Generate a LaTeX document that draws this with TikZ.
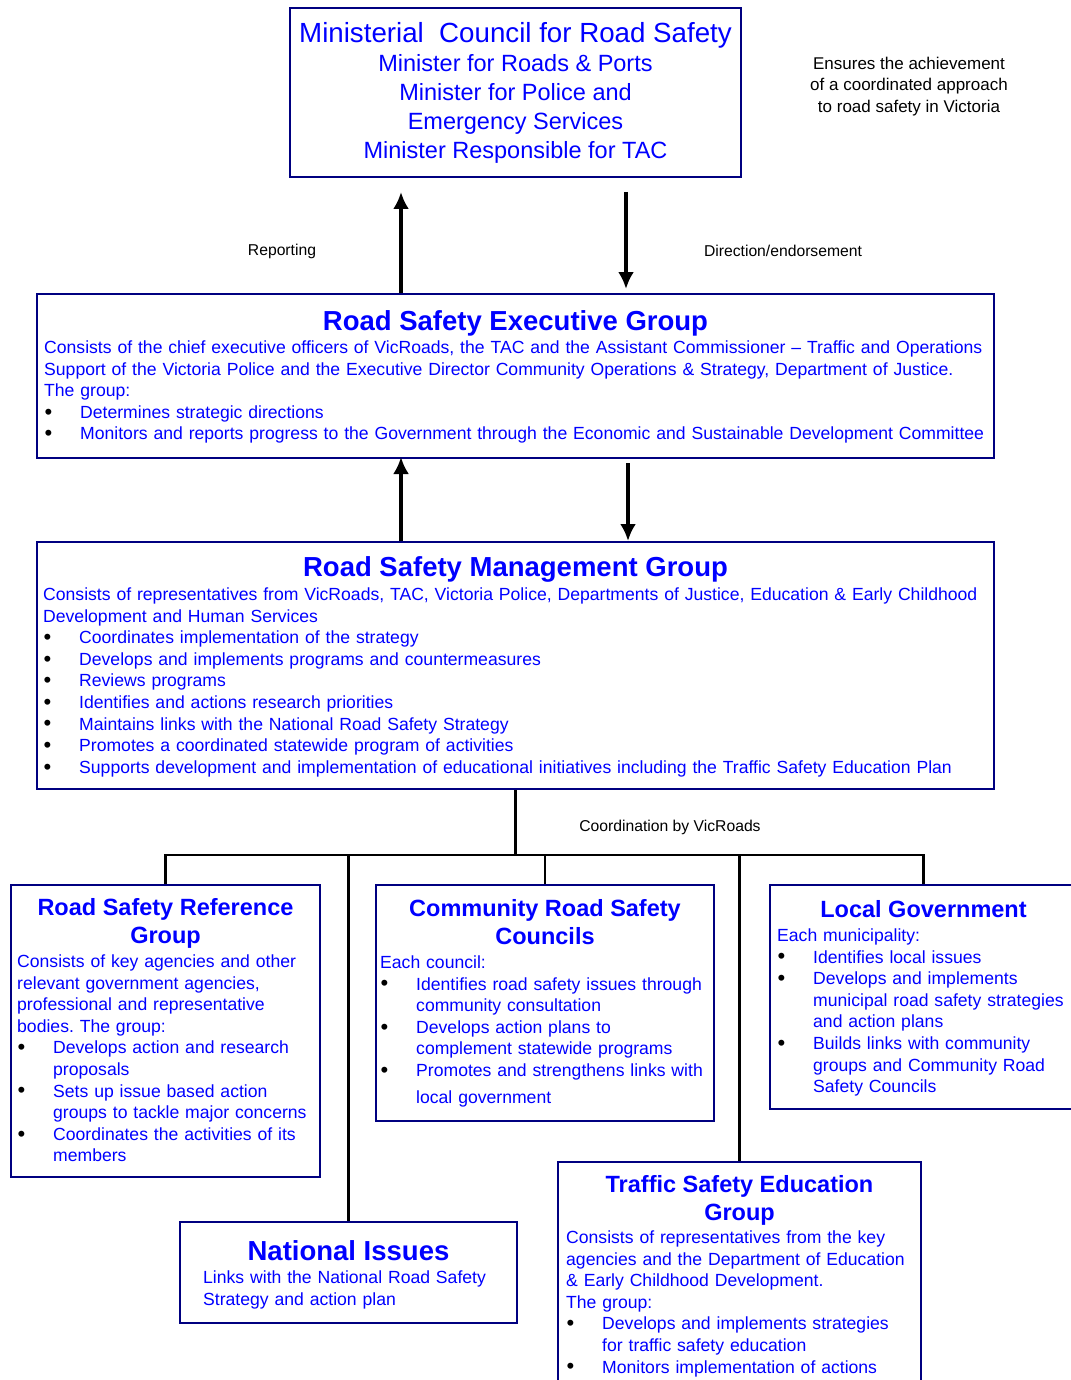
\documentclass[tikz,border=0pt]{standalone}
\usepackage{fontspec}
\setmainfont{Liberation Sans}
\usepackage{tikz}
\usetikzlibrary{arrows.meta}

\definecolor{bordure}{RGB}{0,0,128}
\definecolor{bleu}{RGB}{0,0,255}

\frenchspacing
\newlength{\retrait}
\setlength{\retrait}{36pt}
\newcommand{\puce}[1]{\par\noindent\hangindent=\retrait\hangafter=1%
  \makebox[\retrait][l]{\hspace{0.5pt}\raisebox{-0.8pt}{\fontsize{22}{0}\selectfont\color{black}\textbullet}}#1\par}
\newcommand{\grand}{\fontsize{27.5}{29}\selectfont\bfseries}
\newcommand{\moyen}{\fontsize{23.5}{28.5}\selectfont\bfseries}
\newcommand{\corps}{\fontsize{17.6}{21.6}\selectfont}
\hfuzz=100pt

\tikzset{
  boite/.style={draw=bordure, line width=2pt, anchor=north west, inner sep=0pt},
  titre/.style={text=bleu, anchor=north, inner sep=0pt, align=center},
  texte/.style={text=bleu, anchor=north west, inner sep=0pt, text width=1000pt, font=\corps},
  remarque/.style={inner sep=0pt, font=\fontsize{15.7}{19}\selectfont},
  fleche/.style={line width=3.5pt, -{Latex[length=17pt,width=16pt]}},
  lien/.style={line width=2.5pt}
}

\begin{document}
\begin{tikzpicture}[x=1pt, y=-1pt]
            \useasboundingbox (0,0) rectangle (1070,1380);
            % Les cadres
            \node[boite, minimum width=451pt, minimum height=169pt] (mcrs) at (289,7) {};
            \node[boite, minimum width=957pt, minimum height=164pt] (rseg) at (36,293) {};
            \node[boite, minimum width=957pt, minimum height=247pt] (rsmg) at (36,541) {};
            \node[boite, minimum width=309pt, minimum height=292pt] (rsrg) at (10,884) {};
            \node[boite, minimum width=338pt, minimum height=236pt] (crsc) at (375,884) {};
            \node[boite, minimum width=307pt, minimum height=224pt] (lg) at (769,884) {};
            \node[boite, minimum width=337pt, minimum height=101pt] (ni) at (179,1221) {};
            \node[boite, minimum width=363pt, minimum height=240pt] (tse) at (557,1161) {};
            % Conseil ministeriel
            \node[titre, font=\fontsize{23.5}{29}\selectfont] (mcrs-t) at (mcrs.north |- 0,22) {%
                {\fontsize{27.7}{29}\selectfont Ministerial\ \ Council for Road Safety}\\
                Minister for Roads \& Ports\\ Minister for Police and\\
                Emergency Services\\ Minister Responsible for TAC};
            \node[titre, text=black, font=\fontsize{17}{21.5}\selectfont] (note) at (909,56.5) {%
                Ensures the achievement\\ of a coordinated approach\\ to road safety in Victoria};
            % Groupe executif
            \node[titre, font=\grand] (rseg-t) at (rseg.north |- 0,310) {Road Safety Executive Group};
            \node[texte] (rseg-c) at (44,340.5) {%
                Consists of the chief executive officers of VicRoads, the TAC and the Assistant Commissioner -- Traffic and Operations\\
                Support of the Victoria Police and the Executive Director Community Operations \& Strategy, Department of Justice.\\
                The group:
                \puce{Determines strategic directions}
                \puce{Monitors and reports progress to the Government through the Economic and Sustainable Development Committee}};
            % Groupe de gestion
            \node[titre, font=\grand] (rsmg-t) at (rsmg.north |- 0,556) {Road Safety Management Group};
            \node[texte] (rsmg-c) at (43,587.5) {%
                Consists of representatives from VicRoads, TAC, Victoria Police, Departments of Justice, Education \& Early Childhood\\
                Development and Human Services
                \puce{Coordinates implementation of the strategy}
                \puce{Develops and implements programs and countermeasures}
                \puce{Reviews programs}
                \puce{Identifies and actions research priorities}
                \puce{Maintains links with the National Road Safety Strategy}
                \puce{Promotes a coordinated statewide program of activities}
                \puce{Supports development and implementation of educational initiatives including the Traffic Safety Education Plan}};
            % Groupe de reference
            \node[titre, font=\moyen] (rsrg-t) at (rsrg.north |- 0,898) {Road Safety Reference\\ Group};
            \node[texte] (rsrg-c) at (17,954.5) {%
                Consists of key agencies and other\\ relevant government agencies,\\
                professional and representative\\ bodies. The group:
                \puce{Develops action and research\newline proposals}
                \puce{Sets up issue based action\newline groups to tackle major concerns}
                \puce{Coordinates the activities of its\newline members}};
            % Conseils communautaires
            \node[titre, font=\moyen] (crsc-t) at (crsc.north |- 0,899) {Community Road Safety\\ Councils};
            \node[texte] (crsc-c) at (380,955.5) {%
                Each council:
                \puce{Identifies road safety issues through\newline community consultation}
                \puce{Develops action plans to\newline complement statewide programs}
                \puce{Promotes and strengthens links with\par\vspace{5.5pt}\noindent\hangindent=\retrait\hangafter=0 local government}};
            % Gouvernement local
            \node[titre, font=\moyen] (lg-t) at (lg.north |- 0,900) {Local Government};
            \node[texte] (lg-c) at (777,928.5) {%
                Each municipality:
                \puce{Identifies local issues}
                \puce{Develops and implements\newline municipal road safety strategies\newline and action plans}
                \puce{Builds links with community\newline groups and Community Road\newline Safety Councils}};
            % Questions nationales
            \node[titre, font=\grand] (ni-t) at (ni.north |- 0,1240) {National Issues};
            \node[texte] (ni-c) at (203,1270.5) {%
                Links with the National Road Safety\\ Strategy and action plan};
            % Education
            \node[titre, font=\moyen] (tse-t) at (tse.north |- 0,1175) {Traffic Safety Education\\ Group};
            \node[texte] (tse-c) at (566,1230.5) {%
                Consists of representatives from the key\\ agencies and the Department of Education\\
                \& Early Childhood Development.\\ The group:
                \puce{Develops and implements strategies\newline for traffic safety education}
                \puce{Monitors implementation of actions}};
            % Fleches
            \draw[fleche] ([xshift=365pt]rseg.north west) -- ([xshift=112pt,yshift=-14pt]mcrs.south west);
            \draw[fleche] ([xshift=337pt,yshift=-14pt]mcrs.south west) -- ([xshift=590pt,yshift=4pt]rseg.north west);
            \draw[fleche] ([xshift=365pt]rsmg.north west) -- ([xshift=365pt,yshift=2pt]rseg.south west);
            \draw[fleche] ([xshift=592pt,yshift=-4pt]rseg.south west) -- ([xshift=592pt]rsmg.north west);
            \node[remarque] (rep) at (282,251) {Reporting};
            \node[remarque] (dir) at (783,251) {Direction/endorsement};
            % Reliures
            \coordinate (bus) at (rsmg.south |- 0,855);
            \draw[lien] (rsmg.south) -- (bus);
            \foreach \cible in {rsrg,ni,crsc,tse,lg} {
                \draw[lien] (bus) -| (\cible.north);
            }
            \node[remarque] (coord) at (670,827) {Coordination by VicRoads};
        \end{tikzpicture}
\end{document}
